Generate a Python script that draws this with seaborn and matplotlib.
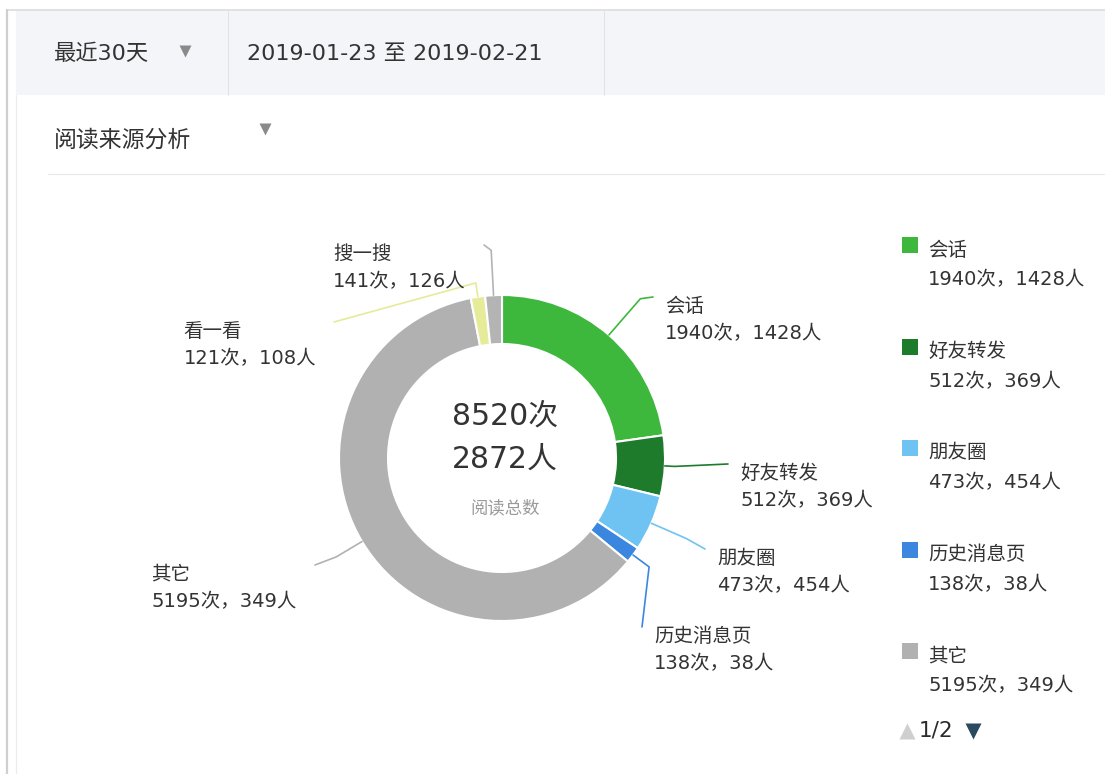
import numpy as np
import matplotlib
matplotlib.use('Agg')
import matplotlib.pyplot as plt
import seaborn as sns
from matplotlib.patches import Rectangle

# data
sources = ['会话', '好友转发', '朋友圈', '历史消息页', '其它', '看一看', '搜一搜']
reads = [1940, 512, 473, 138, 5195, 121, 141]
people = [1428, 369, 454, 38, 349, 108, 126]
colors = ['#3db83d', '#1e7b2c', '#6ec3f3', '#3b87e0', '#b1b1b1', '#e6eb9a', '#b4b4b4']
legend_page = 5  # first page of legend shows 5 items

period_label = '最近30天'
date_range = '2019-01-23 至 2019-02-21'
section_title = '阅读来源分析'
center_caption = '阅读总数'

sns.set_theme(style='white')
# DejaVu first for the wide digits, CJK falls back to Noto
plt.rcParams['font.family'] = ['DejaVu Sans', 'Noto Sans CJK SC']

W, H = 1105, 774
fig = plt.figure(figsize=(W / 100, H / 100), dpi=100)
ax = fig.add_axes([0, 0, 1, 1])


def Y(y):
    # image-style y (from top) to axes y
    return H - y


TXT = '#333333'

# ---- page frame / header ----
ax.add_patch(Rectangle((16, Y(95)), W - 16, 85, facecolor='#f4f5f9', edgecolor='none', zorder=0))
ax.plot([7, W], [Y(10), Y(10)], color='#dcdcdc', lw=1.2, zorder=1)
ax.plot([7, 7], [Y(10), 0], color='#cfcfcf', lw=1.6, zorder=1)
ax.plot([16, 16], [Y(95), 0], color='#ececec', lw=0.8, zorder=1)
for xs in [228, 604]:
    ax.plot([xs, xs], [Y(10), Y(95)], color='#e3e3e3', lw=0.8, zorder=1)
ax.plot([48, W], [Y(174), Y(174)], color='#e8e8e8', lw=0.8, zorder=1)

ax.text(54, Y(54), period_label, fontsize=16, color=TXT, va='center', ha='left')
ax.plot(185, Y(51), marker='v', markersize=9, color='#8a8a8a', mec='none')
ax.text(247, Y(54), date_range, fontsize=16, color=TXT, va='center', ha='left')
ax.text(54, Y(140), section_title, fontsize=16.5, color=TXT, va='center', ha='left')
ax.plot(265, Y(129), marker='v', markersize=9, color='#8a8a8a', mec='none')

# ---- donut ----
cx, cy, R, ring = 502, 458, 163, 49
wedges, _ = ax.pie(reads, colors=colors, startangle=90, counterclock=False,
                   center=(cx, Y(cy)), radius=R,
                   wedgeprops=dict(width=ring, edgecolor='white', linewidth=1.5))

total_reads = sum(reads)
total_people = sum(people)
ax.text(cx + 3, Y(416), f'{total_reads}次', fontsize=21.5, color=TXT, ha='center', va='center')
ax.text(cx + 3, Y(459), f'{total_people}人', fontsize=21.5, color=TXT, ha='center', va='center')
ax.text(cx + 3, Y(508), center_caption, fontsize=12.5, color='#9a9a9a', ha='center', va='center')

# label layout: (text x, first line centre y, side, radial length of leader)
label_pos = {
    '会话': (665, 305, 'r', 48),
    '好友转发': (740, 472, 'r', 10),
    '朋友圈': (717, 557, 'r', 38),
    '历史消息页': (654, 635, 'r', 20),
    '其它': (297, 573, 'l', 30),
    '看一看': (316, 330, 'l', 14),
    '搜一搜': (466, 253, 'l', 45),
}

for w, name, n, p, c in zip(wedges, sources, reads, people, colors):
    mid = np.deg2rad((w.theta1 + w.theta2) / 2)
    dx, dy = np.cos(mid), np.sin(mid)
    tx, ty, side, l1 = label_pos[name]
    x0, y0 = cx + R * dx, Y(cy) + R * dy
    x1, y1 = cx + (R + l1) * dx, Y(cy) + (R + l1) * dy
    x2 = tx - 12 if side == 'r' else tx + 18
    y2 = Y(ty - 8)
    ax.plot([x0, x1, x2], [y0, y1, y2], color=c, lw=1.2, solid_joinstyle='round', zorder=2)
    ax.text(tx, Y(ty + 15), f'{name}\n{n}次，{p}人', fontsize=14, color=TXT,
            ha='left' if side == 'r' else 'right', va='center',
            multialignment='left', linespacing=1.55)

# ---- legend (page 1/2) ----
for i in range(legend_page):
    yy = 245 + i * 101.5
    ax.add_patch(Rectangle((902, Y(yy + 8)), 16, 16, facecolor=colors[i], edgecolor='none'))
    ax.text(928, Y(yy + 5), sources[i], fontsize=14, color=TXT, va='center', ha='left')
    ax.text(928, Y(yy + 35), f'{reads[i]}次，{people[i]}人', fontsize=14, color=TXT,
            va='center', ha='left')

ax.plot(907, Y(731), marker='^', markersize=12, color='#cfcfcf', mec='none')
ax.text(919, Y(731), '1/2', fontsize=15.5, color='#2a2a2a', va='center', ha='left')
ax.plot(973, Y(731), marker='v', markersize=12, color='#2b4a60', mec='none')

ax.set_xlim(0, W)
ax.set_ylim(0, H)
ax.set_aspect('equal')
ax.axis('off')

fig.savefig('out.png', dpi=100, facecolor='white')
